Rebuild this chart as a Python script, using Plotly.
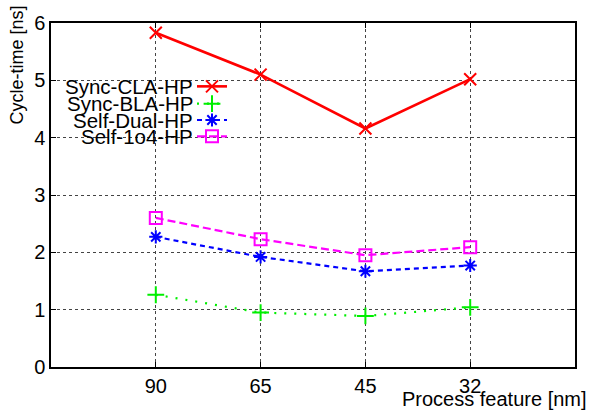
import plotly.graph_objects as go

categories = ["90", "65", "45", "32"]
series_names = ["Sync-CLA-HP", "Sync-BLA-HP", "Self-Dual-HP", "Self-1o4-HP"]
sync_cla = [5.83, 5.10, 4.16, 5.02]
sync_bla = [1.26, 0.95, 0.89, 1.04]
self_dual = [2.27, 1.92, 1.67, 1.77]
self_1o4 = [2.60, 2.23, 1.95, 2.09]
y_ticks = [0, 1, 2, 3, 4, 5, 6]

styles = [
    dict(color="#ff0000", width=2.6, symbol="x-thin-open", size=12),
    dict(color="#00ee00", width=2.2, symbol="cross-thin-open", size=12),
    dict(color="#0000ff", width=2.2, symbol="asterisk-open", size=11),
    dict(color="#ff00ff", width=2.2, symbol="square-open", size=12),
]
dashes = ["solid", "2px,8px", "5px,4px", "8px,4px"]
values = [sync_cla, sync_bla, self_dual, self_1o4]

FONT = "Liberation Sans, Arial, sans-serif"
FS = 20
fig = go.Figure()
for name, vals, st, dsh in zip(series_names, values, styles, dashes):
    fig.add_trace(go.Scatter(
        x=categories, y=vals, mode="lines+markers", name=name, showlegend=False,
        line=dict(color=st["color"], width=st["width"], dash=dsh),
        marker=dict(symbol=st["symbol"], size=st["size"], color=st["color"],
                    line=dict(color=st["color"], width=2)),
    ))

# custom legend (text left of key, gnuplot style)
L, R, T, B = 51, 575, 20, 367.5
W, H = R - L, B - T
def px(x):
    return (x - L) / W
def py(y):
    return (B - y) / H
rows = [84, 101.5, 118, 134.5]
for name, st, dsh, ry in zip(series_names, styles, dashes, rows):
    fig.add_annotation(x=px(194), y=py(ry), xref="paper", yref="paper", text=name,
                       showarrow=False, xanchor="right", yanchor="middle",
                       borderpad=0,
                       font=dict(family=FONT, size=20.5, color="black"))
    fig.add_shape(type="line", xref="paper", yref="paper", x0=px(197), x1=px(227),
                  y0=py(ry), y1=py(ry),
                  line=dict(color=st["color"], width=st["width"], dash=dsh))
    fig.add_trace(go.Scatter(
        x=[px(212)], y=[py(ry)], xaxis="x2", yaxis="y2", mode="markers", showlegend=False,
        hoverinfo="skip",
        marker=dict(symbol=st["symbol"], size=st["size"], color=st["color"],
                    line=dict(color=st["color"], width=2)),
    ))

fig.add_annotation(x=px(17), y=py(63), xref="paper", yref="paper", text="Cycle-time [ns]",
                   textangle=-90, showarrow=False, xanchor="center", yanchor="middle",
                   font=dict(family=FONT, size=18, color="black"))
fig.add_annotation(x=px(588), y=py(399.5), xref="paper", yref="paper", text="Process feature [nm]",
                   showarrow=False, xanchor="right", yanchor="middle", borderpad=0,
                   font=dict(family=FONT, size=FS, color="black"))

fig.update_layout(
    width=589, height=412, margin=dict(l=L, r=589 - R, t=T, b=412 - B),
    paper_bgcolor="white", plot_bgcolor="white",
    font=dict(family=FONT, size=FS, color="black"),
    xaxis=dict(type="category", range=[-1, 4], tickvals=categories, ticktext=categories,
               tickfont=dict(size=FS), ticklabelstandoff=0,
               showgrid=True, gridcolor="#444444", griddash="dot", gridwidth=1,
               showline=True, linecolor="black", linewidth=1.5, mirror="ticks",
               ticks="inside", ticklen=5, tickcolor="black", zeroline=False),
    yaxis=dict(range=[0, 6], tickvals=y_ticks, tickfont=dict(size=FS),
               showgrid=True, gridcolor="#444444",
               griddash="dot", gridwidth=1, showline=True, linecolor="black", linewidth=1.5,
               mirror="ticks", ticks="inside", ticklen=5, tickcolor="black", zeroline=False),
    xaxis2=dict(overlaying="x", range=[0, 1], visible=False, fixedrange=True),
    yaxis2=dict(overlaying="y", range=[0, 1], visible=False, fixedrange=True),
)
fig.write_html("out.html")
